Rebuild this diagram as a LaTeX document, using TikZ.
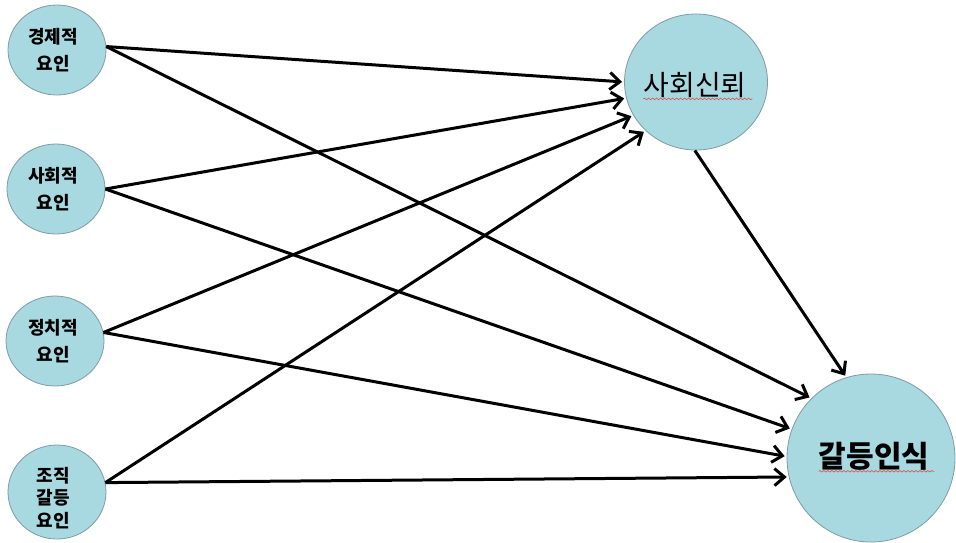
\documentclass[tikz,border=0pt]{standalone}
\usepackage{fontspec}
\setmainfont{Noto Sans CJK KR}
\usetikzlibrary{arrows.meta,shapes.geometric,decorations.pathmorphing}

\definecolor{circlefill}{HTML}{A8D8E0}
\definecolor{circleedge}{HTML}{7E9CA6}
\definecolor{spellred}{HTML}{D9534F}

\begin{document}
\begin{tikzpicture}[x=1pt,y=-1pt,
  factor/.style={ellipse, draw=circleedge, line width=0.8pt, fill=circlefill,
    minimum width=98pt, minimum height=90pt, inner sep=0pt},
  bigfactor/.style={factor, minimum width=#1, minimum height=#1},
  smalltxt/.style={inner sep=0pt, align=center, font=\bfseries\fontsize{18pt}{27pt}\selectfont},
  trusttxt/.style={inner sep=0pt, font=\fontsize{28pt}{32pt}\selectfont},
  conftxt/.style={inner sep=0pt, font=\bfseries\fontsize{30pt}{34pt}\selectfont},
  link/.style={line width=3pt, -{Straight Barb[length=10pt,width=17pt]}, shorten >=2pt},
  wavy/.style={spellred, line width=0.6pt, decorate,
    decoration={snake, segment length=4pt, amplitude=0.8pt}}
]
\useasboundingbox (0,0) rectangle (956,542);

% influencing factors
\node[factor] (econ) at (57,50) {};
\node[factor] (soc) at (56,189) {};
\node[factor] (pol) at (55,341) {};
\node[factor, minimum height=94pt] (org) at (57,492) {};
\node[smalltxt] (econtxt) at (53,50) {경제적\\요인};
\node[smalltxt] (soctxt) at (53,189) {사회적\\요인};
\node[smalltxt] (poltxt) at (53,341) {정치적\\요인};
\node[smalltxt, font=\bfseries\fontsize{18pt}{22.5pt}\selectfont] (orgtxt) at (53,498) {조직\\갈등\\요인};

% mediator and outcome
\node[factor, minimum width=143pt, minimum height=136pt] (trust) at (696,82) {};
\node[bigfactor=168pt] (conf) at (871,458) {};
\node[trusttxt] (trusttxt) at (695,85) {사회신뢰};
\node[conftxt] (conftxt) at (874,456) {갈등인식};
\draw[wavy] ([yshift=-1pt]trusttxt.south west) -- ([xshift=6pt,yshift=-1pt]trusttxt.south east);
\draw[wavy] ([yshift=-1pt]conftxt.south west) -- ([xshift=5pt,yshift=-1pt]conftxt.south east);

% paths
\draw[link] (econ.4) -- (trust.180);
\draw[link] (econ.4) -- (conf.135);
\draw[link] (soc.0) -- (trust.193);
\draw[link] (soc.0) -- (conf.160);
\draw[link] (pol.10) -- (trust.208);
\draw[link] (pol.10) -- (conf.179);
\draw[link] (org.11) -- (trust.224);
\draw[link] (org.11) -- (conf.193);
\draw[link] (trust.269) -- (conf.107);
\end{tikzpicture}
\end{document}
